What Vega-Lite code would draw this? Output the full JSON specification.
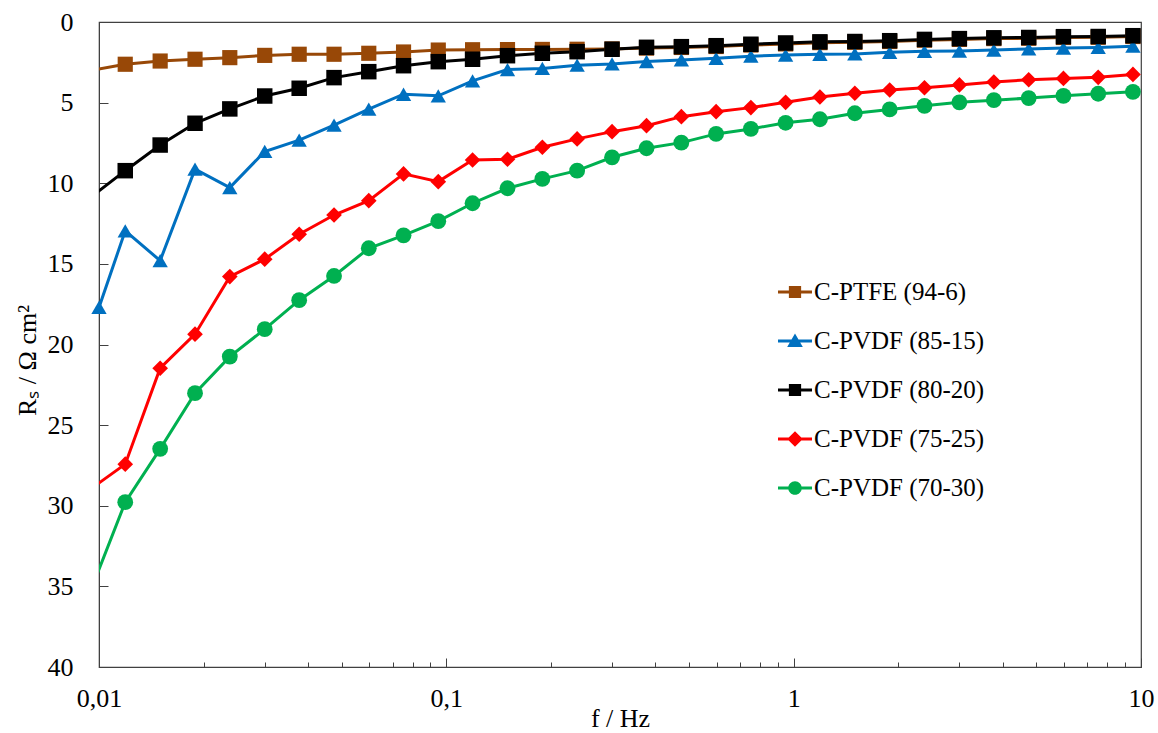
{
  "$schema": "https://vega.github.io/schema/vega-lite/v6.json",
  "width": 1042,
  "height": 645,
  "autosize": {"type": "none"},
  "padding": {"left": 99, "top": 22, "right": 17, "bottom": 66},
  "background": "white",
  "config": {
    "view": {"stroke": "#404040", "strokeWidth": 1.2},
    "font": "Liberation Serif",
    "axis": {"grid": false, "labelFont": "Liberation Serif", "titleFont": "Liberation Serif", "labelColor": "#000", "titleColor": "#000", "domainColor": "#404040", "tickColor": "#404040", "labelFontSize": 26, "titleFontSize": 26, "titleFontWeight": "normal"},
    "legend": {"labelFont": "Liberation Serif", "labelFontSize": 25, "labelColor": "#000"}
  },
  "data": {"values": [
    {"s": "C-PTFE (94-6)", "f": 0.00948, "r": 3.0},
    {"s": "C-PTFE (94-6)", "f": 0.0119, "r": 2.62},
    {"s": "C-PTFE (94-6)", "f": 0.015, "r": 2.42},
    {"s": "C-PTFE (94-6)", "f": 0.0189, "r": 2.31},
    {"s": "C-PTFE (94-6)", "f": 0.0238, "r": 2.21},
    {"s": "C-PTFE (94-6)", "f": 0.03, "r": 2.07},
    {"s": "C-PTFE (94-6)", "f": 0.0377, "r": 2.0},
    {"s": "C-PTFE (94-6)", "f": 0.0475, "r": 2.0},
    {"s": "C-PTFE (94-6)", "f": 0.0598, "r": 1.94},
    {"s": "C-PTFE (94-6)", "f": 0.0753, "r": 1.86},
    {"s": "C-PTFE (94-6)", "f": 0.0948, "r": 1.74},
    {"s": "C-PTFE (94-6)", "f": 0.119, "r": 1.72},
    {"s": "C-PTFE (94-6)", "f": 0.15, "r": 1.71},
    {"s": "C-PTFE (94-6)", "f": 0.189, "r": 1.7},
    {"s": "C-PTFE (94-6)", "f": 0.238, "r": 1.69},
    {"s": "C-PTFE (94-6)", "f": 0.3, "r": 1.67},
    {"s": "C-PTFE (94-6)", "f": 0.377, "r": 1.62},
    {"s": "C-PTFE (94-6)", "f": 0.475, "r": 1.58},
    {"s": "C-PTFE (94-6)", "f": 0.598, "r": 1.52},
    {"s": "C-PTFE (94-6)", "f": 0.753, "r": 1.43},
    {"s": "C-PTFE (94-6)", "f": 0.948, "r": 1.36},
    {"s": "C-PTFE (94-6)", "f": 1.19, "r": 1.28},
    {"s": "C-PTFE (94-6)", "f": 1.5, "r": 1.26},
    {"s": "C-PTFE (94-6)", "f": 1.89, "r": 1.21},
    {"s": "C-PTFE (94-6)", "f": 2.38, "r": 1.13},
    {"s": "C-PTFE (94-6)", "f": 3.0, "r": 1.08},
    {"s": "C-PTFE (94-6)", "f": 3.77, "r": 1.03},
    {"s": "C-PTFE (94-6)", "f": 4.75, "r": 1.01},
    {"s": "C-PTFE (94-6)", "f": 5.98, "r": 0.96},
    {"s": "C-PTFE (94-6)", "f": 7.53, "r": 0.95},
    {"s": "C-PTFE (94-6)", "f": 9.48, "r": 0.9},
    {"s": "C-PVDF (85-15)", "f": 0.01, "r": 17.7},
    {"s": "C-PVDF (85-15)", "f": 0.0119, "r": 12.95},
    {"s": "C-PVDF (85-15)", "f": 0.015, "r": 14.8},
    {"s": "C-PVDF (85-15)", "f": 0.0189, "r": 9.13},
    {"s": "C-PVDF (85-15)", "f": 0.0238, "r": 10.27},
    {"s": "C-PVDF (85-15)", "f": 0.03, "r": 8.03},
    {"s": "C-PVDF (85-15)", "f": 0.0377, "r": 7.33},
    {"s": "C-PVDF (85-15)", "f": 0.0475, "r": 6.4},
    {"s": "C-PVDF (85-15)", "f": 0.0598, "r": 5.41},
    {"s": "C-PVDF (85-15)", "f": 0.0753, "r": 4.48},
    {"s": "C-PVDF (85-15)", "f": 0.0948, "r": 4.58},
    {"s": "C-PVDF (85-15)", "f": 0.119, "r": 3.65},
    {"s": "C-PVDF (85-15)", "f": 0.15, "r": 2.95},
    {"s": "C-PVDF (85-15)", "f": 0.189, "r": 2.88},
    {"s": "C-PVDF (85-15)", "f": 0.238, "r": 2.68},
    {"s": "C-PVDF (85-15)", "f": 0.3, "r": 2.6},
    {"s": "C-PVDF (85-15)", "f": 0.377, "r": 2.45},
    {"s": "C-PVDF (85-15)", "f": 0.475, "r": 2.35},
    {"s": "C-PVDF (85-15)", "f": 0.598, "r": 2.25},
    {"s": "C-PVDF (85-15)", "f": 0.753, "r": 2.12},
    {"s": "C-PVDF (85-15)", "f": 0.948, "r": 2.05},
    {"s": "C-PVDF (85-15)", "f": 1.19, "r": 2.0},
    {"s": "C-PVDF (85-15)", "f": 1.5, "r": 1.98},
    {"s": "C-PVDF (85-15)", "f": 1.89, "r": 1.88},
    {"s": "C-PVDF (85-15)", "f": 2.38, "r": 1.82},
    {"s": "C-PVDF (85-15)", "f": 3.0, "r": 1.8},
    {"s": "C-PVDF (85-15)", "f": 3.77, "r": 1.74},
    {"s": "C-PVDF (85-15)", "f": 4.75, "r": 1.67},
    {"s": "C-PVDF (85-15)", "f": 5.98, "r": 1.62},
    {"s": "C-PVDF (85-15)", "f": 7.53, "r": 1.58},
    {"s": "C-PVDF (85-15)", "f": 9.48, "r": 1.5},
    {"s": "C-PVDF (80-20)", "f": 0.00948, "r": 10.86},
    {"s": "C-PVDF (80-20)", "f": 0.0119, "r": 9.22},
    {"s": "C-PVDF (80-20)", "f": 0.015, "r": 7.63},
    {"s": "C-PVDF (80-20)", "f": 0.0189, "r": 6.28},
    {"s": "C-PVDF (80-20)", "f": 0.0238, "r": 5.39},
    {"s": "C-PVDF (80-20)", "f": 0.03, "r": 4.59},
    {"s": "C-PVDF (80-20)", "f": 0.0377, "r": 4.11},
    {"s": "C-PVDF (80-20)", "f": 0.0475, "r": 3.45},
    {"s": "C-PVDF (80-20)", "f": 0.0598, "r": 3.08},
    {"s": "C-PVDF (80-20)", "f": 0.0753, "r": 2.71},
    {"s": "C-PVDF (80-20)", "f": 0.0948, "r": 2.46},
    {"s": "C-PVDF (80-20)", "f": 0.119, "r": 2.31},
    {"s": "C-PVDF (80-20)", "f": 0.15, "r": 2.09},
    {"s": "C-PVDF (80-20)", "f": 0.189, "r": 1.94},
    {"s": "C-PVDF (80-20)", "f": 0.238, "r": 1.84},
    {"s": "C-PVDF (80-20)", "f": 0.3, "r": 1.69},
    {"s": "C-PVDF (80-20)", "f": 0.377, "r": 1.57},
    {"s": "C-PVDF (80-20)", "f": 0.475, "r": 1.53},
    {"s": "C-PVDF (80-20)", "f": 0.598, "r": 1.47},
    {"s": "C-PVDF (80-20)", "f": 0.753, "r": 1.38},
    {"s": "C-PVDF (80-20)", "f": 0.948, "r": 1.3},
    {"s": "C-PVDF (80-20)", "f": 1.19, "r": 1.23},
    {"s": "C-PVDF (80-20)", "f": 1.5, "r": 1.21},
    {"s": "C-PVDF (80-20)", "f": 1.89, "r": 1.16},
    {"s": "C-PVDF (80-20)", "f": 2.38, "r": 1.08},
    {"s": "C-PVDF (80-20)", "f": 3.0, "r": 1.03},
    {"s": "C-PVDF (80-20)", "f": 3.77, "r": 0.98},
    {"s": "C-PVDF (80-20)", "f": 4.75, "r": 0.96},
    {"s": "C-PVDF (80-20)", "f": 5.98, "r": 0.91},
    {"s": "C-PVDF (80-20)", "f": 7.53, "r": 0.9},
    {"s": "C-PVDF (80-20)", "f": 9.48, "r": 0.85},
    {"s": "C-PVDF (75-25)", "f": 0.00948, "r": 28.95},
    {"s": "C-PVDF (75-25)", "f": 0.0119, "r": 27.42},
    {"s": "C-PVDF (75-25)", "f": 0.015, "r": 21.47},
    {"s": "C-PVDF (75-25)", "f": 0.0189, "r": 19.36},
    {"s": "C-PVDF (75-25)", "f": 0.0238, "r": 15.79},
    {"s": "C-PVDF (75-25)", "f": 0.03, "r": 14.71},
    {"s": "C-PVDF (75-25)", "f": 0.0377, "r": 13.16},
    {"s": "C-PVDF (75-25)", "f": 0.0475, "r": 11.97},
    {"s": "C-PVDF (75-25)", "f": 0.0598, "r": 11.08},
    {"s": "C-PVDF (75-25)", "f": 0.0753, "r": 9.42},
    {"s": "C-PVDF (75-25)", "f": 0.0948, "r": 9.9},
    {"s": "C-PVDF (75-25)", "f": 0.119, "r": 8.56},
    {"s": "C-PVDF (75-25)", "f": 0.15, "r": 8.51},
    {"s": "C-PVDF (75-25)", "f": 0.189, "r": 7.77},
    {"s": "C-PVDF (75-25)", "f": 0.238, "r": 7.25},
    {"s": "C-PVDF (75-25)", "f": 0.3, "r": 6.8},
    {"s": "C-PVDF (75-25)", "f": 0.377, "r": 6.43},
    {"s": "C-PVDF (75-25)", "f": 0.475, "r": 5.87},
    {"s": "C-PVDF (75-25)", "f": 0.598, "r": 5.56},
    {"s": "C-PVDF (75-25)", "f": 0.753, "r": 5.31},
    {"s": "C-PVDF (75-25)", "f": 0.948, "r": 4.98},
    {"s": "C-PVDF (75-25)", "f": 1.19, "r": 4.65},
    {"s": "C-PVDF (75-25)", "f": 1.5, "r": 4.42},
    {"s": "C-PVDF (75-25)", "f": 1.89, "r": 4.22},
    {"s": "C-PVDF (75-25)", "f": 2.38, "r": 4.08},
    {"s": "C-PVDF (75-25)", "f": 3.0, "r": 3.9},
    {"s": "C-PVDF (75-25)", "f": 3.77, "r": 3.72},
    {"s": "C-PVDF (75-25)", "f": 4.75, "r": 3.58},
    {"s": "C-PVDF (75-25)", "f": 5.98, "r": 3.5},
    {"s": "C-PVDF (75-25)", "f": 7.53, "r": 3.43},
    {"s": "C-PVDF (75-25)", "f": 9.48, "r": 3.25},
    {"s": "C-PVDF (70-30)", "f": 0.00948, "r": 35.23},
    {"s": "C-PVDF (70-30)", "f": 0.0119, "r": 29.78},
    {"s": "C-PVDF (70-30)", "f": 0.015, "r": 26.47},
    {"s": "C-PVDF (70-30)", "f": 0.0189, "r": 23.02},
    {"s": "C-PVDF (70-30)", "f": 0.0238, "r": 20.75},
    {"s": "C-PVDF (70-30)", "f": 0.03, "r": 19.05},
    {"s": "C-PVDF (70-30)", "f": 0.0377, "r": 17.25},
    {"s": "C-PVDF (70-30)", "f": 0.0475, "r": 15.75},
    {"s": "C-PVDF (70-30)", "f": 0.0598, "r": 14.03},
    {"s": "C-PVDF (70-30)", "f": 0.0753, "r": 13.23},
    {"s": "C-PVDF (70-30)", "f": 0.0948, "r": 12.35},
    {"s": "C-PVDF (70-30)", "f": 0.119, "r": 11.24},
    {"s": "C-PVDF (70-30)", "f": 0.15, "r": 10.31},
    {"s": "C-PVDF (70-30)", "f": 0.189, "r": 9.73},
    {"s": "C-PVDF (70-30)", "f": 0.238, "r": 9.22},
    {"s": "C-PVDF (70-30)", "f": 0.3, "r": 8.39},
    {"s": "C-PVDF (70-30)", "f": 0.377, "r": 7.83},
    {"s": "C-PVDF (70-30)", "f": 0.475, "r": 7.48},
    {"s": "C-PVDF (70-30)", "f": 0.598, "r": 6.94},
    {"s": "C-PVDF (70-30)", "f": 0.753, "r": 6.63},
    {"s": "C-PVDF (70-30)", "f": 0.948, "r": 6.25},
    {"s": "C-PVDF (70-30)", "f": 1.19, "r": 6.03},
    {"s": "C-PVDF (70-30)", "f": 1.5, "r": 5.66},
    {"s": "C-PVDF (70-30)", "f": 1.89, "r": 5.42},
    {"s": "C-PVDF (70-30)", "f": 2.38, "r": 5.2},
    {"s": "C-PVDF (70-30)", "f": 3.0, "r": 4.98},
    {"s": "C-PVDF (70-30)", "f": 3.77, "r": 4.85},
    {"s": "C-PVDF (70-30)", "f": 4.75, "r": 4.72},
    {"s": "C-PVDF (70-30)", "f": 5.98, "r": 4.58},
    {"s": "C-PVDF (70-30)", "f": 7.53, "r": 4.45},
    {"s": "C-PVDF (70-30)", "f": 9.48, "r": 4.33}
  ]},
  "resolve": {"axis": {"x": "independent"}, "scale": {"shape": "independent"}, "legend": {"color": "independent", "shape": "independent"}},
  "layer": [
    {
      "mark": {"type": "line", "clip": true, "strokeWidth": 3},
      "encoding": {
        "x": {"field": "f", "type": "quantitative",
          "scale": {"type": "log", "domain": [0.01, 10], "nice": false},
          "axis": {"orient": "bottom", "values": [0.01, 0.1, 1, 10], "labelExpr": "replace(toString(datum.value), '.', ',')", "tickSize": -9, "labelPadding": 27, "labelFlush": false, "labelOverlap": false, "labelBound": false, "labelFontSize": 26, "title": "f / Hz", "titleFontSize": 26, "titleY": 59, "titleBaseline": "alphabetic"}},
        "y": {"field": "r", "type": "quantitative",
          "scale": {"domain": [0, 40], "reverse": true, "nice": false, "zero": false},
          "axis": {"values": [0, 5, 10, 15, 20, 25, 30, 35, 40], "tickSize": -9, "labelPadding": 35, "labelFlush": false, "labelBaseline": "middle", "labelFontSize": 26, "title": "Rₛ / Ω cm²", "titleFontSize": 26, "titleX": -64, "titleY": 338, "titleBaseline": "alphabetic", "titleAngle": -90, "titleAnchor": "middle"}},
        "color": {"field": "s", "type": "nominal", "legend": null,
          "scale": {"domain": ["C-PTFE (94-6)", "C-PVDF (85-15)", "C-PVDF (80-20)", "C-PVDF (75-25)", "C-PVDF (70-30)"], "range": ["#984807", "#0070C0", "#000000", "#FF0000", "#00B050"]}},
        "detail": {"field": "s"}
      }
    },
    {
      "transform": [{"filter": "datum.f >= 0.01"}],
      "mark": {"type": "point", "filled": true, "opacity": 1, "strokeWidth": 0},
      "encoding": {
        "x": {"field": "f", "type": "quantitative",
          "axis": {"orient": "bottom", "values": [0.02, 0.03, 0.04, 0.05, 0.06, 0.07, 0.08, 0.09, 0.2, 0.3, 0.4, 0.5, 0.6, 0.7, 0.8, 0.9, 2, 3, 4, 5, 6, 7, 8, 9], "labels": false, "domain": false, "tickSize": -5, "title": null}},
        "y": {"field": "r", "type": "quantitative"},
        "size": {"field": "s", "type": "ordinal", "legend": null,
          "scale": {"domain": ["C-PTFE (94-6)", "C-PVDF (85-15)", "C-PVDF (80-20)", "C-PVDF (75-25)", "C-PVDF (70-30)"], "range": [230, 250, 260, 330, 220]}},
        "color": {"field": "s", "type": "nominal", "legend": null},
        "shape": {"field": "s", "type": "nominal", "legend": null,
          "scale": {"domain": ["C-PTFE (94-6)", "C-PVDF (85-15)", "C-PVDF (80-20)", "C-PVDF (75-25)", "C-PVDF (70-30)"], "range": ["square", "triangle-up", "square", "diamond", "circle"]}}
      }
    },
    {
      "transform": [{"filter": "datum.f >= 0.01"}],
      "mark": {"type": "point", "filled": true, "opacity": 0, "strokeWidth": 0, "size": 1156},
      "encoding": {
        "x": {"field": "f", "type": "quantitative", "axis": null},
        "y": {"field": "r", "type": "quantitative"},
        "color": {"field": "s", "type": "nominal",
          "legend": {"orient": "none", "legendX": 679, "legendY": 253, "title": null, "padding": 0, "symbolSize": 1156, "rowPadding": 19, "labelOffset": 2, "labelLimit": 400, "labelFont": "Liberation Serif", "labelFontSize": 25, "labelColor": "#000", "symbolStrokeWidth": 0, "symbolOpacity": 1}},
        "shape": {"field": "s", "type": "nominal",
          "scale": {"domain": ["C-PTFE (94-6)", "C-PVDF (85-15)", "C-PVDF (80-20)", "C-PVDF (75-25)", "C-PVDF (70-30)"], "range": ["M-1,-0.09H1V0.09H-1Z M-0.36,-0.36H0.36V0.36H-0.36Z", "M-1,-0.09H1V0.09H-1Z M0,-0.44L0.46,0.36H-0.46Z", "M-1,-0.09H1V0.09H-1Z M-0.36,-0.36H0.36V0.36H-0.36Z", "M-1,-0.09H1V0.09H-1Z M0,-0.46L0.46,0L0,0.46L-0.46,0Z", "M-1,-0.09H1V0.09H-1Z M-0.4,0A0.4,0.4,0,1,1,0.4,0A0.4,0.4,0,1,1,-0.4,0Z"]},
          "legend": {"orient": "none", "legendX": 679, "legendY": 253, "title": null, "padding": 0, "symbolSize": 1156, "rowPadding": 19, "labelOffset": 2, "labelLimit": 400, "labelFont": "Liberation Serif", "labelFontSize": 25, "labelColor": "#000", "symbolStrokeWidth": 0, "symbolOpacity": 1}}
      }
    }
  ]
}
